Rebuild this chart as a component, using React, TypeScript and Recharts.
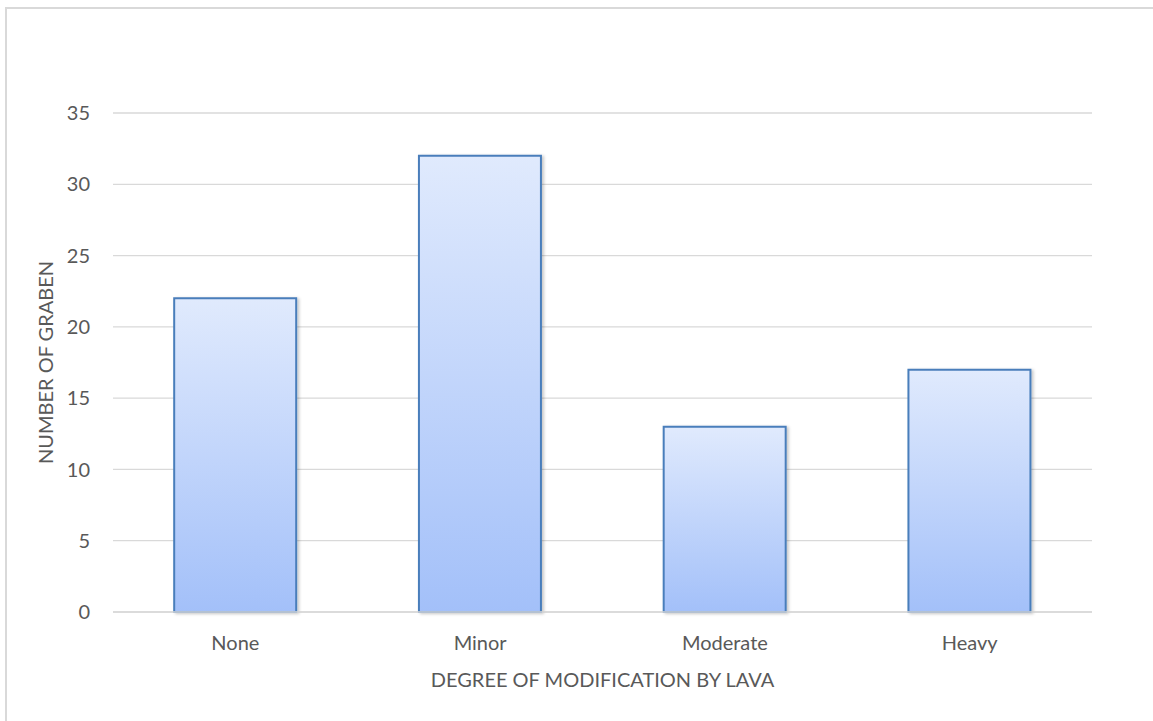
import React from 'react';
import { BarChart, Bar, XAxis, YAxis, CartesianGrid, Rectangle, Label } from 'recharts';

// Number of graben per degree of lava modification
const categories = ['None', 'Minor', 'Moderate', 'Heavy'];
const grabenCounts = [22, 32, 13, 17];
const yTicks = [0, 5, 10, 15, 20, 25, 30, 35];

const data = categories.map((name, i) => ({ name, count: grabenCounts[i] }));

const FONT = 'Lato, "Open Sans", sans-serif';
const TEXT = '#595959';
const GRID = '#d9d9d9';

const BarShape = (props: any) => (
  <g filter="url(#barShadow)">
    <Rectangle {...props} />
  </g>
);

const YTitle = (props: any) => {
  const vb = props.viewBox || {};
  const cx = (vb.x ?? 0) + 45;
  const cy = (vb.y ?? 0) + (vb.height ?? 0) / 2;
  return (
    <text
      x={cx}
      y={cy}
      transform={`rotate(-90, ${cx}, ${cy})`}
      textAnchor="middle"
      dominantBaseline="central"
      fill={TEXT}
      fontSize={20}
      fontFamily={FONT}
    >
      NUMBER OF GRABEN
    </text>
  );
};

export default function App() {
  return (
    <div
      style={{
        position: 'absolute',
        left: 0,
        top: 0,
        width: 1153,
        height: 721,
        overflow: 'hidden',
        background: '#ffffff',
      }}
    >
      <div
        style={{
          position: 'absolute',
          left: 5,
          top: 7,
          width: 1160,
          height: 730,
          border: `2px solid ${GRID}`,
          boxSizing: 'border-box',
        }}
      />
      <div style={{ position: 'absolute', left: 0, top: 0 }}>
        <BarChart
          width={1153}
          height={721}
          data={data}
          margin={{ top: 113, right: 61, bottom: 0, left: 0 }}
          barCategoryGap="25%"
        >
          <defs>
            <linearGradient id="barFill" x1="0" y1="0" x2="0" y2="1">
              <stop offset="0%" stopColor="#e0eafd" />
              <stop offset="100%" stopColor="#a3c0f9" />
            </linearGradient>
            <filter id="barShadow" x="-10%" y="-10%" width="130%" height="130%">
              <feDropShadow dx="2" dy="1" stdDeviation="1.5" floodColor="#000" floodOpacity="0.22" />
            </filter>
          </defs>
          <CartesianGrid vertical={false} stroke={GRID} strokeWidth={1.3} />
          <XAxis
            dataKey="name"
            height={109}
            tickSize={0}
            tickMargin={24}
            axisLine={{ stroke: GRID, strokeWidth: 1.3 }}
            tickLine={false}
            tick={{ fill: TEXT, fontSize: 20, fontFamily: FONT }}
          >
            <Label
              value="DEGREE OF MODIFICATION BY LAVA"
              position="insideTop"
              offset={61}
              fill={TEXT}
              fontSize={20}
              fontFamily={FONT}
            />
          </XAxis>
          <YAxis
            width={113}
            domain={[0, 35]}
            ticks={yTicks}
            interval={0}
            tickSize={0}
            tickMargin={23}
            axisLine={false}
            tickLine={false}
            tick={{ fill: TEXT, fontSize: 20, fontFamily: FONT }}
          >
            <Label content={<YTitle />} />
          </YAxis>
          <Bar
            dataKey="count"
            fill="url(#barFill)"
            stroke="#4a7ebb"
            strokeWidth={2}
            shape={<BarShape />}
            isAnimationActive={false}
          />
        </BarChart>
      </div>
    </div>
  );
}
